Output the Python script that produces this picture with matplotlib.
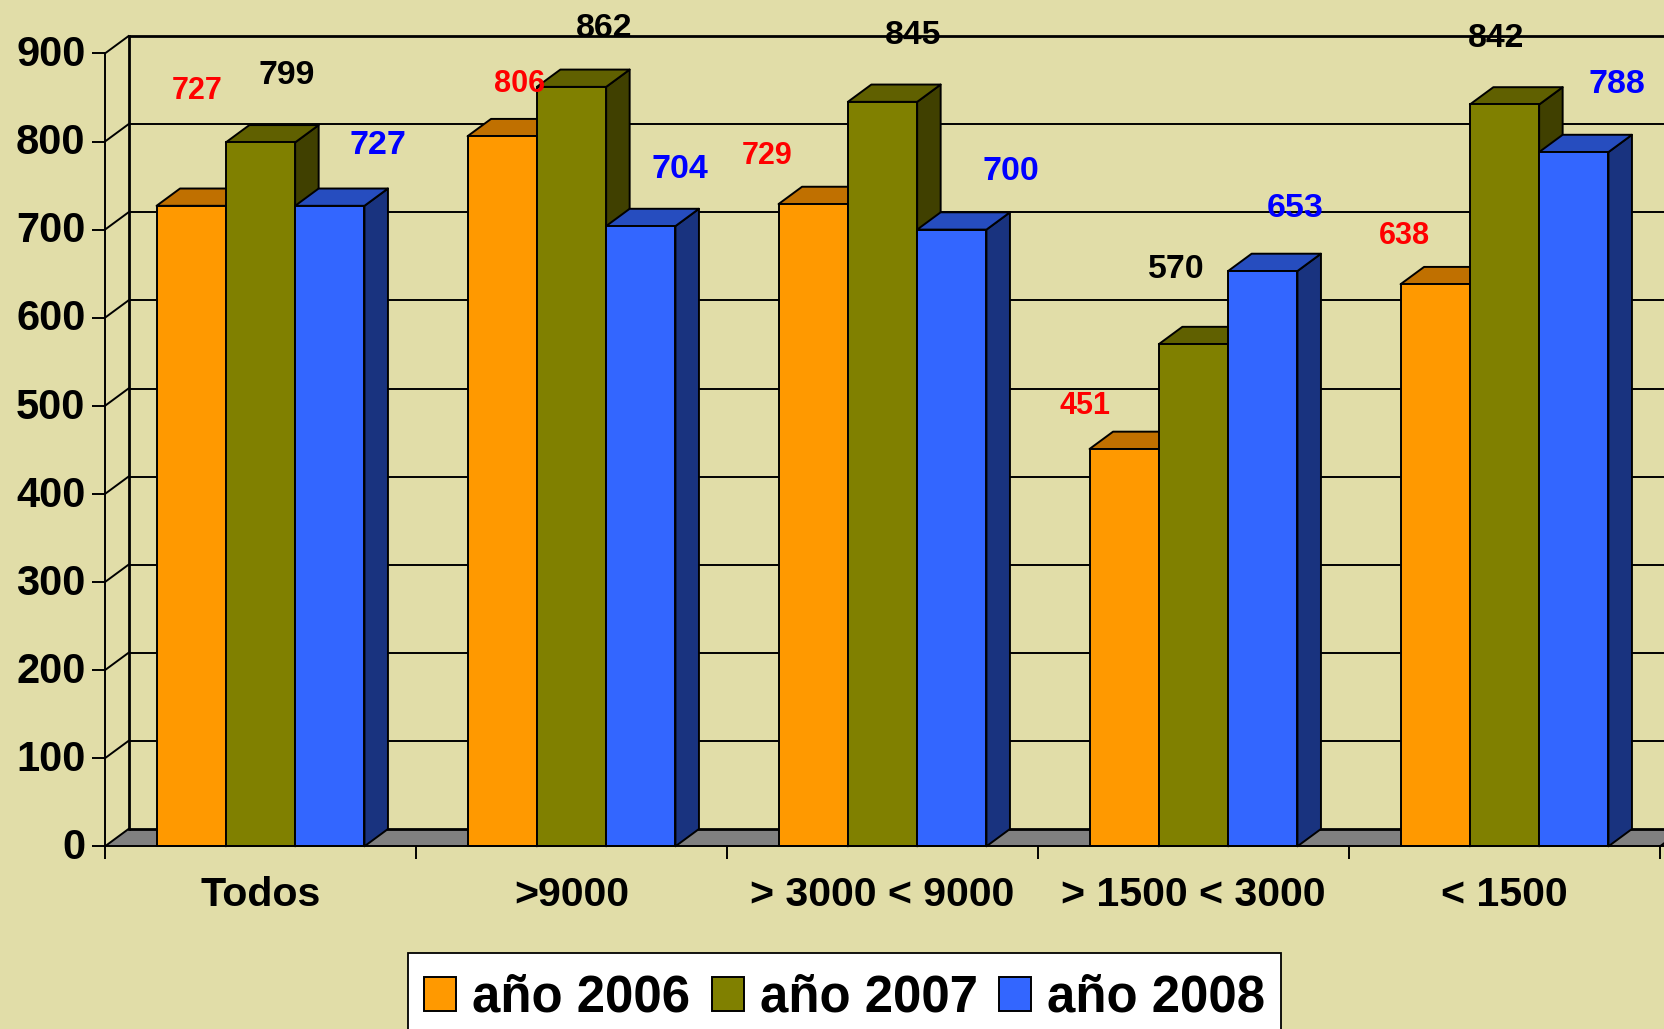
import matplotlib
matplotlib.use("Agg")
import matplotlib.pyplot as plt
from matplotlib.patches import Polygon, Patch, Rectangle
from matplotlib.ticker import NullFormatter
from matplotlib.transforms import ScaledTranslation

categories = ["Todos", ">9000", "> 3000 < 9000", "> 1500 < 3000", "< 1500"]
anio_2006 = [727, 806, 729, 451, 638]
anio_2007 = [799, 862, 845, 570, 842]
anio_2008 = [727, 704, 700, 653, 788]
series_names = ["año 2006", "año 2007", "año 2008"]
y_ticks = [0, 100, 200, 300, 400, 500, 600, 700, 800, 900]

# label nudges from the bar top, in pixels (the source placed them by hand)
nudge_2006 = [(5.5, 114.5), (17, 52), (-46, 48.5), (-39, 42.5), (-31, 48.5)]
nudge_2007 = [(25.7, 67), (33, 58), (31, 66), (-17.4, 74.5), (-8, 66)]
nudge_2008 = [(48.5, 60), (39, 56.5), (59.5, 58.5), (32, 63), (43.5, 68)]

BG = "#E1DDA8"
FONT = "Liberation Sans"
W, H = 1665, 1029
X0, Y0, CATW, YS = 105.0, 846.3, 311.0, 0.881
DX, DY = 23.5 / CATW, 17.3 / YS
BW = 69.3 / CATW
LW = 1.4

fig = plt.figure(figsize=(W / 100, H / 100), dpi=100, facecolor=BG)
ax = fig.add_axes([0, 0, 1, 1], facecolor=BG)
ax.set_xlim(-X0 / CATW, (W - X0) / CATW)
ax.set_ylim((Y0 - H) / YS, Y0 / YS)
xr = ax.get_xlim()[1]
n = len(categories)

# back wall and floor
ax.add_patch(Polygon([(0, 0), (DX, DY), (xr + DX, DY), (xr, 0)], closed=True,
                     facecolor="#808080", edgecolor="none", zorder=1))
for v in y_ticks:
    thick = v == y_ticks[-1] or v == 0
    ax.plot([DX, xr + DX], [v + DY, v + DY], color="black", lw=2.0 if thick else LW, zorder=1.5,
            solid_capstyle="butt")
    ax.plot([0, DX], [v, v + DY], color="black", lw=LW, zorder=1.5)
ax.plot([DX, DX], [DY, y_ticks[-1] + DY], color="black", lw=2.0, zorder=1.5)
ax.plot([n, n + DX], [0, DY], color="black", lw=LW, zorder=1.5)

# bars
styles = [("#FF9900", "#C07000", "#7F4C00", "red", 22, nudge_2006),
          ("#808000", "#606000", "#404000", "black", 24.4, nudge_2007),
          ("#3366FF", "#264DBF", "#19337F", "blue", 24.5, nudge_2008)]
all_values = [anio_2006, anio_2007, anio_2008]
handles = []
for s, (values, (front, top, side, tcol, tsize, nudge)) in enumerate(zip(all_values, styles)):
    z = 3 + s
    lefts = [i + 0.5 + (s - 1.5) * BW for i in range(n)]
    for x, v in zip(lefts, values):
        ax.add_patch(Polygon([(x + BW, 0), (x + BW + DX, DY), (x + BW + DX, v + DY), (x + BW, v)],
                             closed=True, facecolor=side, edgecolor="black", lw=LW, zorder=z,
                             joinstyle="round"))
        ax.add_patch(Polygon([(x, v), (x + DX, v + DY), (x + BW + DX, v + DY), (x + BW, v)],
                             closed=True, facecolor=top, edgecolor="black", lw=LW, zorder=z,
                             joinstyle="round"))
    ax.bar(lefts, values, width=BW, align="edge", color=front, edgecolor="black", lw=LW, zorder=z + 0.5)
    for x, v, (nx, ny) in zip(lefts, values, nudge):
        ax.annotate(str(v), (x + BW / 2, v), xytext=(nx, ny), textcoords="offset pixels",
                    ha="center", va="center", color=tcol, fontsize=tsize, fontweight="bold",
                    family=FONT, zorder=10)
    handles.append(Patch(facecolor=front, edgecolor="black", lw=LW, label=series_names[s]))

# axes
for sp in ("top", "right"):
    ax.spines[sp].set_visible(False)
ax.spines["left"].set_position(("data", 0))
ax.spines["left"].set_bounds(0, y_ticks[-1])
ax.spines["bottom"].set_position(("data", 0))
ax.spines["bottom"].set_bounds(0, xr)
for sp in ("left", "bottom"):
    ax.spines[sp].set_linewidth(LW)
    ax.spines[sp].set_zorder(9)
ax.set_yticks(y_ticks)
ax.set_xticks(range(n + 1))
ax.xaxis.set_major_formatter(NullFormatter())
ax.set_xticks([i + 0.5 for i in range(n)], minor=True)
ax.set_xticklabels(categories, minor=True)
ax.tick_params(axis="x", which="major", length=9.6, width=LW)
ax.tick_params(axis="x", which="minor", length=0, pad=21.5)
ax.tick_params(axis="y", length=9.6, width=LW, pad=4.5)
for lab in ax.get_xticklabels(minor=True):
    lab.set_fontsize(29.6)
    lab.set_fontweight("bold")
    lab.set_family(FONT)
up = ScaledTranslation(0, 2.0 / 72, fig.dpi_scale_trans)
for lab in ax.get_yticklabels():
    lab.set_fontsize(30)
    lab.set_fontweight("bold")
    lab.set_family(FONT)
    lab.set_transform(lab.get_transform() + up)

# legend frame, then the legend itself
ax.add_patch(Rectangle((407.7 / W, 1 - 1040 / H), (1280.7 - 407.7) / W, (1040 - 952.7) / H,
                       transform=fig.transFigure, facecolor="white", edgecolor="black",
                       lw=1.3, zorder=11, clip_on=False))
leg = ax.legend(handles=handles, ncol=3, loc="upper left",
                bbox_to_anchor=(406.7 / W, 1 - 956.7 / H), bbox_transform=fig.transFigure,
                borderaxespad=0, borderpad=0.34, handlelength=0.63, handleheight=0.63,
                handletextpad=0.31, columnspacing=0.43, frameon=False,
                prop={"family": FONT, "weight": "bold", "size": 36.6})
leg.set_zorder(12)

fig.savefig("out.png", dpi=100, facecolor=BG)
